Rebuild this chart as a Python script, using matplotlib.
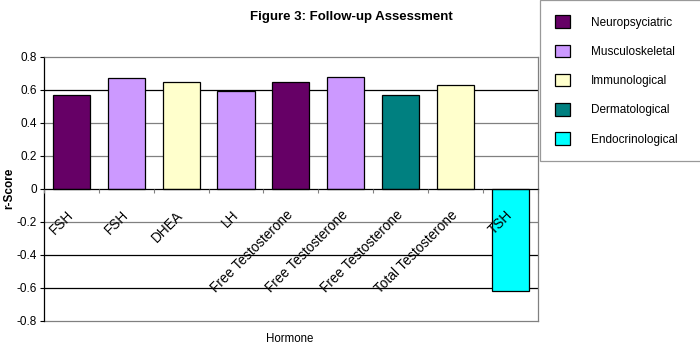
import matplotlib
matplotlib.use("Agg")
import matplotlib.pyplot as plt
from matplotlib.patches import Patch
import numpy as np

plt.rcParams['font.family'] = ['Liberation Sans', 'DejaVu Sans']

hormones = ["FSH", "FSH", "DHEA", "LH", "Free Testosterone", "Free Testosterone",
            "Free Testosterone", "Total Testosterone", "TSH"]
r_scores = [0.565, 0.672, 0.644, 0.59, 0.644, 0.679, 0.57, 0.63, -0.618]
groups = ["Neuropsyciatric", "Musculoskeletal", "Immunological", "Musculoskeletal",
          "Neuropsyciatric", "Musculoskeletal", "Dermatological", "Immunological",
          "Endocrinological"]
legend_names = ["Neuropsyciatric", "Musculoskeletal", "Immunological",
                "Dermatological", "Endocrinological"]
yticks = [-0.8, -0.6, -0.4, -0.2, 0, 0.2, 0.4, 0.6, 0.8]

palette = {"Neuropsyciatric": "#660066", "Musculoskeletal": "#CC99FF",
           "Immunological": "#FFFFCC", "Dermatological": "#008080",
           "Endocrinological": "#00FFFF"}

fig = plt.figure(figsize=(7.0, 3.49), dpi=100)
ax = fig.add_axes([44/700, 1 - 320.7/349, (537.7-44)/700, (320.7-56.7)/349])
ax.set_axisbelow(False)

n = len(hormones)
x = np.arange(n)
ax.set_xlim(-0.5, n - 0.5)
ax.set_ylim(-0.8, 0.8)

# gridlines
grid_black = {0.6, -0.4, -0.6}
for v in yticks:
    if v in (0, 0.8, -0.8):
        continue
    ax.axhline(v, color='black' if round(v, 1) in grid_black else '#808080',
               lw=0.9, zorder=0.5)

ax.bar(x, r_scores, width=0.675, color=[palette[g] for g in groups],
       edgecolor='black', linewidth=0.9, zorder=1)

# frame
for s in ['top', 'right']:
    ax.spines[s].set_color('#808080')
    ax.spines[s].set_linewidth(0.9)
ax.spines['left'].set_color('black')
ax.spines['left'].set_linewidth(0.9)
ax.spines['bottom'].set_position(('data', 0))
ax.spines['bottom'].set_color('black')
ax.spines['bottom'].set_linewidth(0.9)
ax.axhline(-0.8, color='#808080', lw=0.9, clip_on=False, zorder=1)

ax.set_yticks(yticks)
ax.set_yticklabels(["-0.8", "-0.6", "-0.4", "-0.2", "0", "0.2", "0.4", "0.6", "0.8"],
                   fontsize=8.5)
ax.tick_params(axis='y', length=3, width=0.8, direction='out', pad=2)

ax.set_xticks(np.arange(n + 1) - 0.5)
ax.set_xticklabels([])
ax.tick_params(axis='x', which='major', length=3, width=0.8, direction='out', color='#808080')
ax.set_xticks(x, minor=True)
ax.set_xticklabels(hormones, minor=True, rotation=45, ha='right', va='center',
                   rotation_mode='anchor', fontsize=9.8)
ax.tick_params(axis='x', which='minor', length=0, pad=17.5)

fig.text(9/700, 1 - 188.5/349, "r-Score", rotation=90, ha='center', va='center',
         fontsize=8.5, fontweight='bold')
fig.text(290/700, 1 - 339/349, "Hormone", ha='center', va='center', fontsize=8.3)
fig.text(351/700, 1 - 17/349, "Figure 3: Follow-up Assessment", ha='center',
         va='center', fontsize=9.5, fontweight='bold')

handles = [Patch(facecolor=palette[g], edgecolor='black', linewidth=0.9) for g in legend_names]
leg = fig.legend(handles, legend_names, loc='upper left', mode='expand',
                 bbox_to_anchor=(540/700, 0, 170/700, 1.0), fontsize=8.5, frameon=True,
                 fancybox=False, handlelength=1.27, handleheight=1.27,
                 handletextpad=1.78, labelspacing=1.35, borderpad=1.3,
                 borderaxespad=0)
leg.get_frame().set_edgecolor('#808080')
leg.get_frame().set_linewidth(0.9)

fig.savefig("out.png", dpi=100)
